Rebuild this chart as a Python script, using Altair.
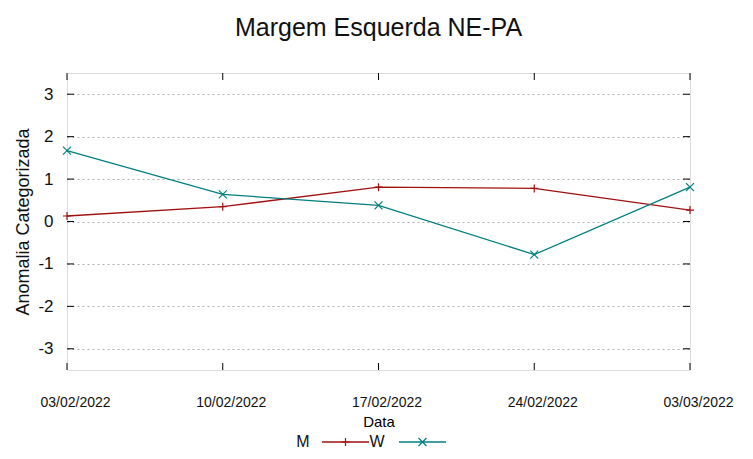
import altair as alt
import pandas as pd

dates = ["03/02/2022", "10/02/2022", "17/02/2022", "24/02/2022", "03/03/2022"]
m_vals = [0.13, 0.35, 0.81, 0.78, 0.27]
w_vals = [1.67, 0.64, 0.38, -0.78, 0.81]
series = ["M", "W"]
colors = ["#a01010", "#007f7f"]
y_ticks = [-3, -2, -1, 0, 1, 2, 3]

df = pd.DataFrame({
    "Data": dates * 2,
    "value": m_vals + w_vals,
    "serie": ["M"] * len(dates) + ["W"] * len(dates),
})
xt = pd.DataFrame({"Data": dates})
yt = pd.DataFrame({"v": y_ticks})

W, H = 623, 297
FONT = "Liberation Sans"
PLUS = "M-1,0L1,0M0,-1L0,1"
CROSS = "M-1,-1L1,1M-1,1L1,-1"

xenc = alt.X("Data:O", sort=dates, scale=alt.Scale(type="point", padding=0),
             title="Data",
             axis=alt.Axis(labelAngle=0, tickSize=0, domain=False, labelPadding=25,
                           labelOffset=8,
                           labelFontSize=14, labelFont=FONT, labelColor="#111",
                           titleFontSize=15, titleFont=FONT, titleFontWeight="normal",
                           titlePadding=5, titleColor="#000"))
yscale = alt.Scale(domain=[-3.5, 3.5], nice=False, zero=False)
yenc = alt.Y("value:Q", scale=yscale, title="Anomalia Categorizada",
             axis=alt.Axis(values=y_ticks, tickSize=0, domain=False, labelPadding=14,
                           labelExpr="'' + datum.value",
                           labelFontSize=17, labelFont=FONT, labelColor="#111",
                           grid=True, gridDash=[2, 3], gridColor="#b0b0b0",
                           titleFontSize=18, titleFont=FONT, titleFontWeight="normal",
                           titlePadding=5, titleColor="#111"))
cenc = alt.Color("serie:N", scale=alt.Scale(domain=series, range=colors), legend=None)

lines = alt.Chart(df).mark_line(strokeWidth=1.3, clip=False).encode(x=xenc, y=yenc, color=cenc)
pts = alt.Chart(df).mark_point(filled=False, size=64, strokeWidth=1.2, opacity=1).encode(
    x=alt.X("Data:O", sort=dates), y=alt.Y("value:Q"), color=cenc,
    shape=alt.Shape("serie:N", scale=alt.Scale(domain=series, range=[PLUS, CROSS]), legend=None))

xt_b = alt.Chart(xt).mark_rule(color="#000", strokeWidth=1).encode(
    x=alt.X("Data:O", sort=dates), y=alt.value(H), y2=alt.value(H - 7))
xt_t = alt.Chart(xt).mark_rule(color="#000", strokeWidth=1).encode(
    x=alt.X("Data:O", sort=dates), y=alt.value(0), y2=alt.value(7))
yt_l = alt.Chart(yt).mark_rule(color="#000", strokeWidth=1).encode(
    y=alt.Y("v:Q", scale=yscale), x=alt.value(0), x2=alt.value(7))
yt_r = alt.Chart(yt).mark_rule(color="#000", strokeWidth=1).encode(
    y=alt.Y("v:Q", scale=yscale), x=alt.value(W - 7), x2=alt.value(W))

# legend (gnuplot style: label then sample)
LY = 369
leg_layers = []
text_x = [236, 310]
line_x = [(255, 302), (332, 379)]
for i, s in enumerate(series):
    sd = pd.DataFrame({"serie": [s]})
    leg_layers.append(alt.Chart(sd).mark_text(font=FONT, fontSize=16, color="#111", baseline="middle").encode(
        text="serie:N", x=alt.value(text_x[i]), y=alt.value(LY)))
    leg_layers.append(alt.Chart(sd).mark_rule(color=colors[i], strokeWidth=1.3).encode(
        x=alt.value(line_x[i][0]), x2=alt.value(line_x[i][1]), y=alt.value(LY)))
    leg_layers.append(alt.Chart(sd).mark_point(shape=[PLUS, CROSS][i], filled=False, size=64,
                                               strokeWidth=1.2, color=colors[i], opacity=1).encode(
        x=alt.value((line_x[i][0] + line_x[i][1]) / 2), y=alt.value(LY)))

chart = alt.layer(lines, pts, xt_b, xt_t, yt_l, yt_r, *leg_layers).properties(
    width=W, height=H,
    title=alt.TitleParams("Margem Esquerda NE-PA", font=FONT, fontSize=25, fontWeight="normal",
                          color="#111", offset=32),
    autosize=alt.AutoSizeParams(type="none"),
    padding={"left": 59, "top": 65, "right": 50, "bottom": 79},
).configure_view(stroke="#000", strokeWidth=1).configure(background="white")

chart.save("out.html", embed_options={"renderer": "svg", "actions": False})
